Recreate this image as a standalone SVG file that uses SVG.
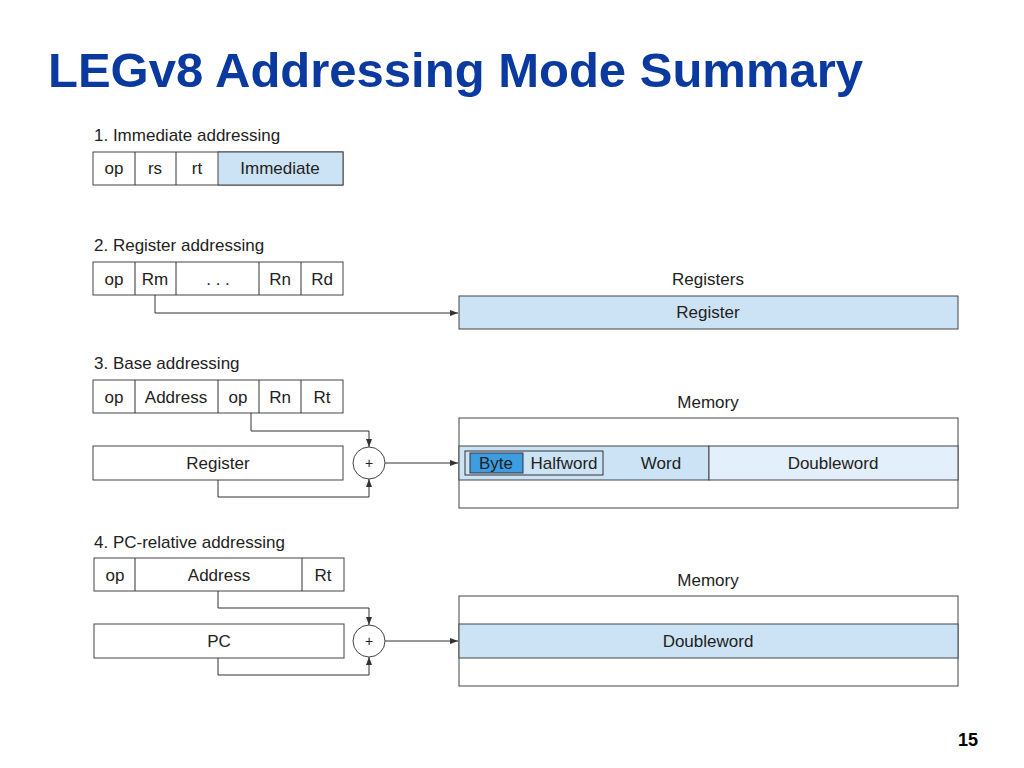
<svg xmlns="http://www.w3.org/2000/svg" width="1024" height="768" viewBox="0 0 1024 768">
<style>
text{font-family:"Liberation Sans",Arial,sans-serif;fill:#222;font-size:17px}
.c{text-anchor:middle}
.b{fill:#fff;stroke:#444;stroke-width:1}
.bl{fill:#cce3f6;stroke:#444;stroke-width:1}
.ln{fill:none;stroke:#333;stroke-width:1}
</style>
<defs><marker id="a" markerWidth="8" markerHeight="8" refX="8" refY="4" orient="auto" markerUnits="userSpaceOnUse"><path d="M0,1L8,4L0,7z" fill="#333"/></marker></defs>
<rect width="1024" height="768" fill="#fff"/>
<text x="48" y="87" style="font-size:49px;font-weight:bold;fill:#0a3aa0">LEGv8 Addressing Mode Summary</text>
<text x="958" y="746" style="font-size:18px;font-weight:bold;fill:#000">15</text>

<g id="m1">
<text x="94" y="141">1.  Immediate addressing</text>
<rect class="b" x="93" y="152" width="250" height="33"/>
<rect class="bl" x="218" y="152" width="125" height="33"/>
<path class="ln" d="M135,152V185M176,152V185"/>
<text class="c" x="114" y="174">op</text><text class="c" x="155" y="174">rs</text><text class="c" x="197" y="174">rt</text><text class="c" x="280" y="174">Immediate</text>
</g>

<g id="m2">
<text x="94" y="251">2. Register addressing</text>
<rect class="b" x="93" y="262" width="250" height="33"/>
<path class="ln" d="M135,262V295M176,262V295M259,262V295M301,262V295"/>
<text class="c" x="114" y="285">op</text><text class="c" x="155" y="285">Rm</text><text class="c" x="218" y="285">. . .</text><text class="c" x="280" y="285">Rn</text><text class="c" x="322" y="285">Rd</text>
<text class="c" x="708" y="285">Registers</text>
<rect class="bl" x="459" y="296" width="499" height="33"/>
<text class="c" x="708" y="318">Register</text>
</g>

<g id="m3">
<text x="94" y="369">3.  Base addressing</text>
<rect class="b" x="93" y="380" width="250" height="33"/>
<path class="ln" d="M135,380V413M218,380V413M259,380V413M301,380V413"/>
<text class="c" x="114" y="403">op</text><text class="c" x="176" y="403">Address</text><text class="c" x="238" y="403">op</text><text class="c" x="280" y="403">Rn</text><text class="c" x="322" y="403">Rt</text>
<rect class="b" x="93" y="446" width="250" height="34"/>
<text class="c" x="218" y="469">Register</text>
<circle class="b" cx="369" cy="463" r="16"/><text class="c" x="369" y="468" style="font-size:14px">+</text>
<text class="c" x="708" y="408">Memory</text>
<rect class="b" x="459" y="418" width="499" height="90"/>
<rect class="bl" x="459" y="446" width="250" height="34"/>
<rect x="709" y="446" width="249" height="34" fill="#e3effa" stroke="#444"/>
<rect x="465" y="451" width="138" height="24" fill="none" stroke="#333"/>
<rect x="470" y="453" width="53" height="20" fill="#3d9de0" stroke="#333"/>
<text class="c" x="496" y="469">Byte</text><text class="c" x="564" y="469">Halfword</text><text class="c" x="661" y="469">Word</text><text class="c" x="833" y="469">Doubleword</text>
</g>

<g id="m4">
<text x="94" y="548">4.  PC-relative addressing</text>
<rect class="b" x="94" y="558" width="250" height="33"/>
<path class="ln" d="M135,558V591M302,558V591"/>
<text class="c" x="115" y="581">op</text><text class="c" x="219" y="581">Address</text><text class="c" x="323" y="581">Rt</text>
<rect class="b" x="94" y="624" width="250" height="34"/>
<text class="c" x="219" y="647">PC</text>
<circle class="b" cx="369" cy="641" r="16"/><text class="c" x="369" y="646" style="font-size:14px">+</text>
<text class="c" x="708" y="586">Memory</text>
<rect class="b" x="459" y="596" width="499" height="90"/>
<rect class="bl" x="459" y="624" width="499" height="34"/>
<text class="c" x="708" y="647">Doubleword</text>
</g>

<g id="connectors">
<path class="ln" marker-end="url(#a)" d="M155,295V313H458"/>
<path class="ln" marker-end="url(#a)" d="M251,413V431H369V447"/>
<path class="ln" marker-end="url(#a)" d="M218,480V497H369V479"/>
<path class="ln" marker-end="url(#a)" d="M385,463H458"/>
<path class="ln" marker-end="url(#a)" d="M218,591V608H369V625"/>
<path class="ln" marker-end="url(#a)" d="M218,658V675H369V657"/>
<path class="ln" marker-end="url(#a)" d="M385,641H458"/>
</g>
</svg>
